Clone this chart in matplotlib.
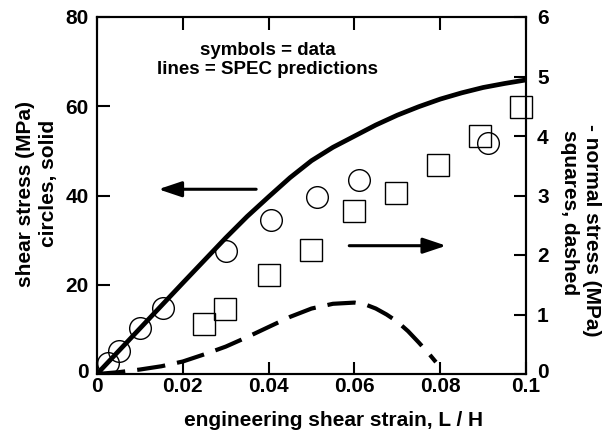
import numpy as np
import matplotlib
matplotlib.use("Agg")
import matplotlib.pyplot as plt
from matplotlib.transforms import ScaledTranslation

plt.rcParams['font.family'] = ['Liberation Sans', 'DejaVu Sans']
plt.rcParams['font.weight'] = 'bold'

# data
# circles = shear stress (MPa, left axis)
circ_x = [0.0025, 0.0051, 0.0101, 0.0154, 0.0301, 0.0406, 0.0512, 0.0610, 0.0912]
circ_y = [2.5, 5.1, 10.3, 14.9, 27.6, 34.4, 39.7, 43.5, 51.7]

# squares = - normal stress (MPa, right axis)
sq_x = [0.0250, 0.0298, 0.0402, 0.0498, 0.0600, 0.0696, 0.0796, 0.0893, 0.0988]
sq_y = [0.84, 1.09, 1.66, 2.08, 2.74, 3.05, 3.51, 4.00, 4.48]

# SPEC predictions
shear_x = [0, 0.01, 0.02, 0.03, 0.035, 0.04, 0.045, 0.05, 0.055, 0.06, 0.065,
           0.07, 0.075, 0.08, 0.085, 0.09, 0.095, 0.1]
shear_y = [0, 10.2, 20.4, 30.5, 35.3, 39.7, 44.0, 47.8, 50.8, 53.3, 55.8,
           58.0, 59.9, 61.6, 63.0, 64.2, 65.1, 65.9]

normal_x = [0, 0.005, 0.01, 0.015, 0.02, 0.025, 0.03, 0.035, 0.04, 0.045, 0.05,
            0.055, 0.06, 0.0625, 0.065, 0.0675, 0.07, 0.0725, 0.075, 0.0775, 0.079]
normal_y = [0, 0.03, 0.075, 0.13, 0.21, 0.33, 0.46, 0.62, 0.79, 0.96, 1.10,
            1.18, 1.20, 1.17, 1.10, 1.00, 0.88, 0.72, 0.53, 0.33, 0.20]

x_ticks = [0, 0.02, 0.04, 0.06, 0.08, 0.1]
x_labels = ['0', '0.02', '0.04', '0.06', '0.08', '0.1']
left_ticks = [0, 20, 40, 60, 80]
right_ticks = [0, 1, 2, 3, 4, 5, 6]

W, H = 611, 433
fig = plt.figure(figsize=(W / 100, H / 100), dpi=100)
ax = fig.add_axes([97 / W, 1 - 374 / H, 429 / W, 357 / H])
ax2 = ax.twinx()

# data
ax.plot(circ_x, circ_y, 'o', ms=15.6, mfc='none', mec='black', mew=1.0, zorder=2, clip_on=False)
ax2.plot(sq_x, sq_y, 's', ms=15.6, mfc='none', mec='black', mew=1.0, zorder=2, clip_on=False)
ax.plot(shear_x, shear_y, '-', color='black', lw=3.4, zorder=3, solid_capstyle='butt')
ax2.plot(normal_x, normal_y, '--', color='black', lw=3.0, dashes=(6.8, 2.9), zorder=3)

ax.set_xlim(0, 0.1)
ax.set_ylim(0, 80)
ax2.set_ylim(0, 6)

ax.set_xticks(x_ticks)
ax.set_xticklabels(x_labels)
ax.set_yticks(left_ticks)
ax2.set_yticks(right_ticks)

for a in (ax, ax2):
    for s in a.spines.values():
        s.set_linewidth(1.5)
ax.tick_params(axis='x', direction='in', length=9, width=1.5, top=True,
               labelsize=15, pad=2)
ax.tick_params(axis='y', direction='in', length=9, width=1.5, labelsize=15, pad=6)
ax2.tick_params(axis='y', direction='in', length=9, width=1.5, labelsize=15, pad=8)

# lift the two "0" labels on the y axes a little, as in the reference
lift = ScaledTranslation(0, 4 / 100, fig.dpi_scale_trans)
for lab in (ax.get_yticklabels()[0], ax2.get_yticklabels()[0]):
    lab.set_transform(lab.get_transform() + lift)

ax.text(0.3986, 0.88, 'symbols = data\nlines = SPEC predictions', transform=ax.transAxes,
        ha='center', va='center', fontsize=13.5, fontweight='bold', linespacing=1.15)

arrow = dict(arrowstyle='-|>,head_length=14,head_width=4.7', color='black', lw=2.2,
             shrinkA=0, shrinkB=0, mutation_scale=1)
ax.annotate('', xy=(0.0143, 41.4), xytext=(0.0371, 41.4), arrowprops=arrow)
ax.annotate('', xy=(0.0814, 28.75), xytext=(0.0588, 28.75), arrowprops=arrow)

fig.text(333 / W, 1 - 421 / H, 'engineering shear strain, L / H', ha='center', va='center',
         fontsize=15, fontweight='bold')
fig.text(26 / W, 1 - 194 / H, 'shear stress (MPa)', rotation=90, ha='center', va='center',
         fontsize=15, fontweight='bold')
fig.text(48.5 / W, 1 - 183 / H, 'circles, solid', rotation=90, ha='center', va='center',
         fontsize=15, fontweight='bold')
fig.text(591 / W, 1 - 230 / H, '- normal stress (MPa)', rotation=270, ha='center',
         va='center', fontsize=15, fontweight='bold')
fig.text(569 / W, 1 - 213 / H, 'squares, dashed', rotation=270, ha='center', va='center',
         fontsize=15, fontweight='bold')

fig.savefig('out.png', dpi=100)
